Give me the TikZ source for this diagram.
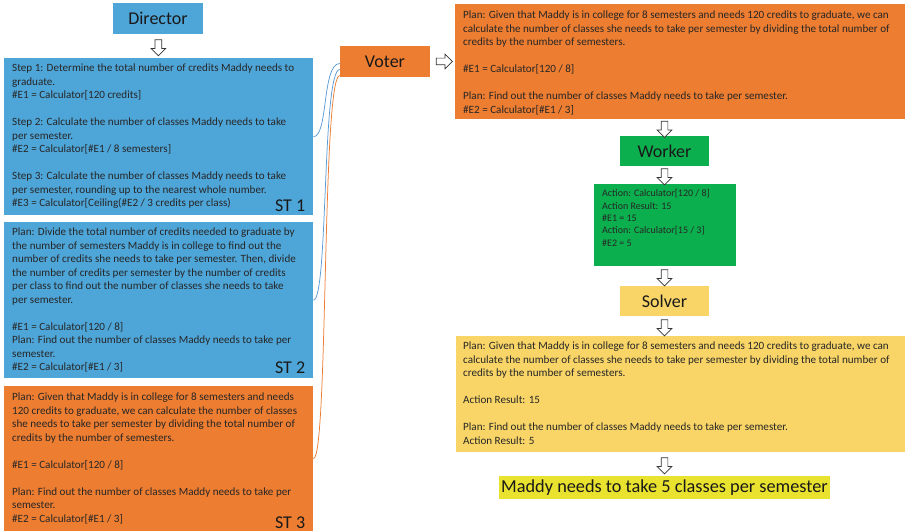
\documentclass[tikz,border=0pt]{standalone}
\usepackage{fontspec}
\setmainfont{Carlito}
\usepackage{tikz}
\usetikzlibrary{positioning,shapes.arrows,calc}
\definecolor{plBlue}{HTML}{4EA5D8}
\definecolor{plOrange}{HTML}{ED7D31}
\definecolor{plGreen}{HTML}{0CAF4E}
\definecolor{plGold}{HTML}{F9D567}
\definecolor{plLime}{HTML}{E9E22E}
\definecolor{lnBlue}{HTML}{5B9BD5}
\tikzset{
  head/.style={inner sep=0pt, minimum width=90pt, minimum height=31pt,
        font=\fontsize{18}{20}\selectfont, text=black!90},
  panel/.style={inner sep=0pt, anchor=north west},
  body/.style={anchor=north west, inner sep=0pt, align=left,
        font=\fontsize{11.1}{13.5}\selectfont, text=black!85},
  tag/.style={anchor=base east, inner sep=0pt,
        font=\fontsize{18}{20}\selectfont, text=black!90},
  blockdown/.style={single arrow, draw=black!80, fill=white, line width=0.7pt,
        inner sep=3pt, minimum height=16pt, single arrow head extend=4pt,
        shape border rotate=270},
  link/.style={line width=0.75pt}
}

\begin{document}
\begin{tikzpicture}[x=1pt, y=-1pt,
  blockright/.style={blockdown, shape border rotate=0},
  small/.style={body, font=\fontsize{10}{12.3}\selectfont}
]
\useasboundingbox (0,0) rectangle (905,532);

% left column: director and the three plans
\node[head, fill=plBlue] (director) at (158,18.5) {Director};
\node[panel, fill=plBlue, minimum width=309pt, minimum height=157pt] (st1) at (4,58) {};
\node[body] (st1txt) at ($(st1.north west)+(8,6)$) {Step 1: Determine the total number of credits Maddy needs to\\
graduate.\\
\#E1 = Calculator[120 credits]\\[13.5pt]
Step 2: Calculate the number of classes Maddy needs to take\\
per semester.\\
\#E2 = Calculator[\#E1 / 8 semesters]\\[13.5pt]
Step 3: Calculate the number of classes Maddy needs to take\\
per semester, rounding up to the nearest whole number.\\
\#E3 = Calculator[Ceiling(\#E2 / 3 credits per class)};
\node[tag] (st1tag) at ($(st1.south east)+(-8,-4)$) {ST 1};

\node[panel, fill=plBlue, minimum width=309pt, minimum height=156pt] (st2) at (4,222) {};
\node[body] (st2txt) at ($(st2.north west)+(8,6)$) {Plan: Divide the total number of credits needed to graduate by\\
the number of semesters Maddy is in college to find out the\\
number of credits she needs to take per semester. Then, divide\\
the number of credits per semester by the number of credits\\
per class to find out the number of classes she needs to take\\
per semester.\\[13.5pt]
\#E1 = Calculator[120 / 8]\\
Plan: Find out the number of classes Maddy needs to take per\\
semester.\\
\#E2 = Calculator[\#E1 / 3]};
\node[tag] (st2tag) at ($(st2.south east)+(-8,-5)$) {ST 2};

\node[panel, fill=plOrange, minimum width=309pt, minimum height=145pt] (st3) at (4,386) {};
\node[body] (st3txt) at ($(st3.north west)+(8,7)$) {Plan: Given that Maddy is in college for 8 semesters and needs\\
120 credits to graduate, we can calculate the number of classes\\
she needs to take per semester by dividing the total number of\\
credits by the number of semesters.\\[13.5pt]
\#E1 = Calculator[120 / 8]\\[13.5pt]
Plan: Find out the number of classes Maddy needs to take per\\
semester.\\
\#E2 = Calculator[\#E1 / 3]};
\node[tag] (st3tag) at ($(st3.south east)+(-8,-3)$) {ST 3};

% voter
\node[head, fill=plOrange] (voter) at (385,61.5) {Voter};
\node[panel, fill=plOrange, minimum width=450pt, minimum height=115pt] (plan) at (455,4) {};
\node[body] (plantxt) at ($(plan.north west)+(8,7)$) {Plan: Given that Maddy is in college for 8 semesters and needs 120 credits to graduate, we can\\
calculate the number of classes she needs to take per semester by dividing the total number of\\
credits by the number of semesters.\\[13.5pt]
\#E1 = Calculator[120 / 8]\\[13.5pt]
Plan: Find out the number of classes Maddy needs to take per semester.\\
\#E2 = Calculator[\#E1 / 3]};

% worker
\node[head, fill=plGreen, minimum width=89pt, minimum height=30pt] (worker) at (664.5,151) {Worker};
\node[panel, fill=plGreen, minimum width=142pt, minimum height=82pt] (wres) at (594,184) {};
\node[small] (wrestxt) at ($(wres.north west)+(8,5.5)$) {Action: Calculator[120 / 8]\\
Action Result: 15\\
\#E1 = 15\\
Action: Calculator[15 / 3]\\
\#E2 = 5};

% solver
\node[head, fill=plGold, minimum width=89pt, minimum height=30pt] (solver) at (664.5,301) {Solver};
\node[panel, fill=plGold, minimum width=449pt, minimum height=116pt] (sres) at (456,336) {};
\node[body] (srestxt) at ($(sres.north west)+(7,6)$) {Plan: Given that Maddy is in college for 8 semesters and needs 120 credits to graduate, we can\\
calculate the number of classes she needs to take per semester by dividing the total number of\\
credits by the number of semesters.\\[13.5pt]
Action Result: 15\\[13.5pt]
Plan: Find out the number of classes Maddy needs to take per semester.\\
Action Result: 5};

\node[head, fill=plLime, minimum width=331pt, minimum height=23pt,
      font=\fontsize{18.3}{20}\selectfont] (answer) at (664.5,487.5) {Maddy needs to take 5 classes per semester};

% block arrows
\node[blockdown] (a1) at ($(director.south)!0.5!(st1.north)$) {};
\node[blockright] (a2) at ($(voter.east)!0.5!(plan.west |- voter.east)$) {};
\node[blockdown] (a3) at ($(worker.north)!0.5!(worker.north |- plan.south)$) {};
\node[blockdown] (a4) at ($(worker.south)!0.5!(worker.south |- wres.north)$) {};
\node[blockdown] (a5) at ($(solver.north)!0.5!(solver.north |- wres.south)$) {};
\node[blockdown] (a6) at ($(solver.south)!0.5!(solver.south |- sres.north)$) {};
\node[blockdown] (a7) at ($(answer.north)!0.5!(answer.north |- sres.south)$) {};

% links into the voter
\draw[link, lnBlue] (st1.east) .. controls +(15,0) and +(-18,0) .. ([yshift=-2pt]voter.west);
\draw[link, lnBlue] (st2.east) .. controls +(15,0) and +(-18,0) .. ([yshift=-8pt]voter.west);
\draw[link, plOrange] (st3.east) .. controls +(15,0) and +(-18,0) .. ([yshift=-14pt]voter.west);
\end{tikzpicture}
\end{document}
